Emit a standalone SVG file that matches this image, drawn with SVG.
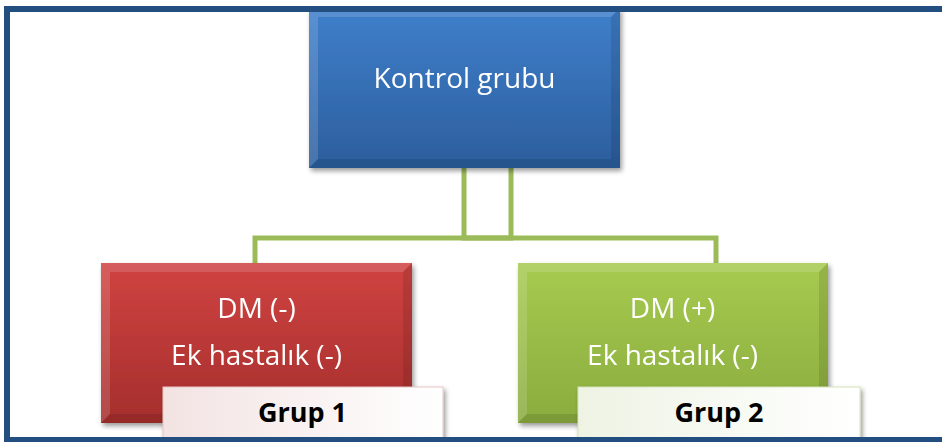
<svg xmlns="http://www.w3.org/2000/svg" width="942" height="442" viewBox="0 0 942 442">
  <defs>
    <linearGradient id="gBlue" x1="0" y1="0" x2="0" y2="1">
      <stop offset="0" stop-color="#3F7FCB"/>
      <stop offset="1" stop-color="#2C5E9D"/>
    </linearGradient>
    <linearGradient id="gRed" x1="0" y1="0" x2="0" y2="1">
      <stop offset="0" stop-color="#D04341"/>
      <stop offset="1" stop-color="#A52E2D"/>
    </linearGradient>
    <linearGradient id="gGreen" x1="0" y1="0" x2="0" y2="1">
      <stop offset="0" stop-color="#A7CA50"/>
      <stop offset="1" stop-color="#89AC3E"/>
    </linearGradient>
    <linearGradient id="gTag1" x1="0" y1="0" x2="1" y2="0">
      <stop offset="0" stop-color="#F3E3E3"/>
      <stop offset="1" stop-color="#FFFFFF"/>
    </linearGradient>
    <linearGradient id="gTag2" x1="0" y1="0" x2="1" y2="0">
      <stop offset="0" stop-color="#EEF3E4"/>
      <stop offset="1" stop-color="#FFFFFF"/>
    </linearGradient>
    <filter id="shadow" x="-10%" y="-10%" width="125%" height="130%">
      <feGaussianBlur in="SourceAlpha" stdDeviation="2.5"/>
      <feOffset dx="2" dy="3"/>
      <feComponentTransfer><feFuncA type="linear" slope="0.4"/></feComponentTransfer>
      <feMerge><feMergeNode/><feMergeNode in="SourceGraphic"/></feMerge>
    </filter>
  </defs>
  <style>
    .conn { fill: none; stroke: #9BBB59; stroke-width: 5; }
    .lbl { font-family: "Open Sans", "Liberation Sans", sans-serif; font-size: 28px; fill: #FFFFFF; text-anchor: middle; }
    .tag { font-family: "Open Sans", "Liberation Sans", sans-serif; font-size: 27px; font-weight: bold; fill: #000000; text-anchor: middle; }
    .hi { fill: #FFFFFF; opacity: 0.14; }
    .lo { fill: #000000; opacity: 0.1; }
  </style>

  <rect x="0" y="0" width="942" height="442" fill="#FFFFFF"/>

  <!-- connectors -->
  <g id="connectors">
    <path class="conn" d="M464,166 V238 H511 V166"/>
    <path class="conn" d="M255,264 V238 H716 V264"/>
  </g>

  <!-- root node -->
  <g id="kontrol" filter="url(#shadow)">
    <rect x="309" y="8" width="311" height="160" fill="url(#gBlue)"/>
    <polygon class="hi" points="309,8 620,8 611,17 318,17"/>
    <polygon class="hi" points="309,8 318,17 318,159 309,168"/>
    <polygon class="lo" points="309,168 318,159 611,159 620,168"/>
    <polygon class="lo" points="620,8 620,168 611,159 611,17"/>
    <text class="lbl" x="464.5" y="88">Kontrol grubu</text>
  </g>

  <!-- group 1 -->
  <g id="grup1">
    <g filter="url(#shadow)">
      <rect x="101" y="263" width="311" height="160" fill="url(#gRed)"/>
      <polygon class="hi" points="101,263 412,263 403,272 110,272"/>
      <polygon class="hi" points="101,263 110,272 110,414 101,423"/>
      <polygon class="lo" points="101,423 110,414 403,414 412,423"/>
      <polygon class="lo" points="412,263 412,423 403,414 403,272"/>
      <text class="lbl" x="256.5" y="318">DM (-)</text>
      <text class="lbl" x="256.5" y="365">Ek hastalık (-)</text>
    </g>
    <g filter="url(#shadow)">
      <rect x="163" y="387" width="280" height="55" fill="url(#gTag1)" stroke="#E7C5C4" stroke-width="1"/>
    </g>
    <text class="tag" x="302.5" y="422">Grup 1</text>
  </g>

  <!-- group 2 -->
  <g id="grup2">
    <g filter="url(#shadow)">
      <rect x="518" y="263" width="310" height="160" fill="url(#gGreen)"/>
      <polygon class="hi" points="518,263 828,263 819,272 527,272"/>
      <polygon class="hi" points="518,263 527,272 527,414 518,423"/>
      <polygon class="lo" points="518,423 527,414 819,414 828,423"/>
      <polygon class="lo" points="828,263 828,423 819,414 819,272"/>
      <text class="lbl" x="672.5" y="318">DM (+)</text>
      <text class="lbl" x="672.5" y="365">Ek hastalık (-)</text>
    </g>
    <g filter="url(#shadow)">
      <rect x="578" y="387" width="282" height="55" fill="url(#gTag2)" stroke="#D5E3B8" stroke-width="1"/>
    </g>
    <text class="tag" x="719" y="422">Grup 2</text>
  </g>

  <!-- frame -->
  <g id="frame" fill="#234E80">
    <rect x="4" y="6" width="938" height="6"/>
    <rect x="4" y="6" width="6" height="436"/>
    <rect x="4" y="437" width="938" height="5"/>
  </g>
</svg>
